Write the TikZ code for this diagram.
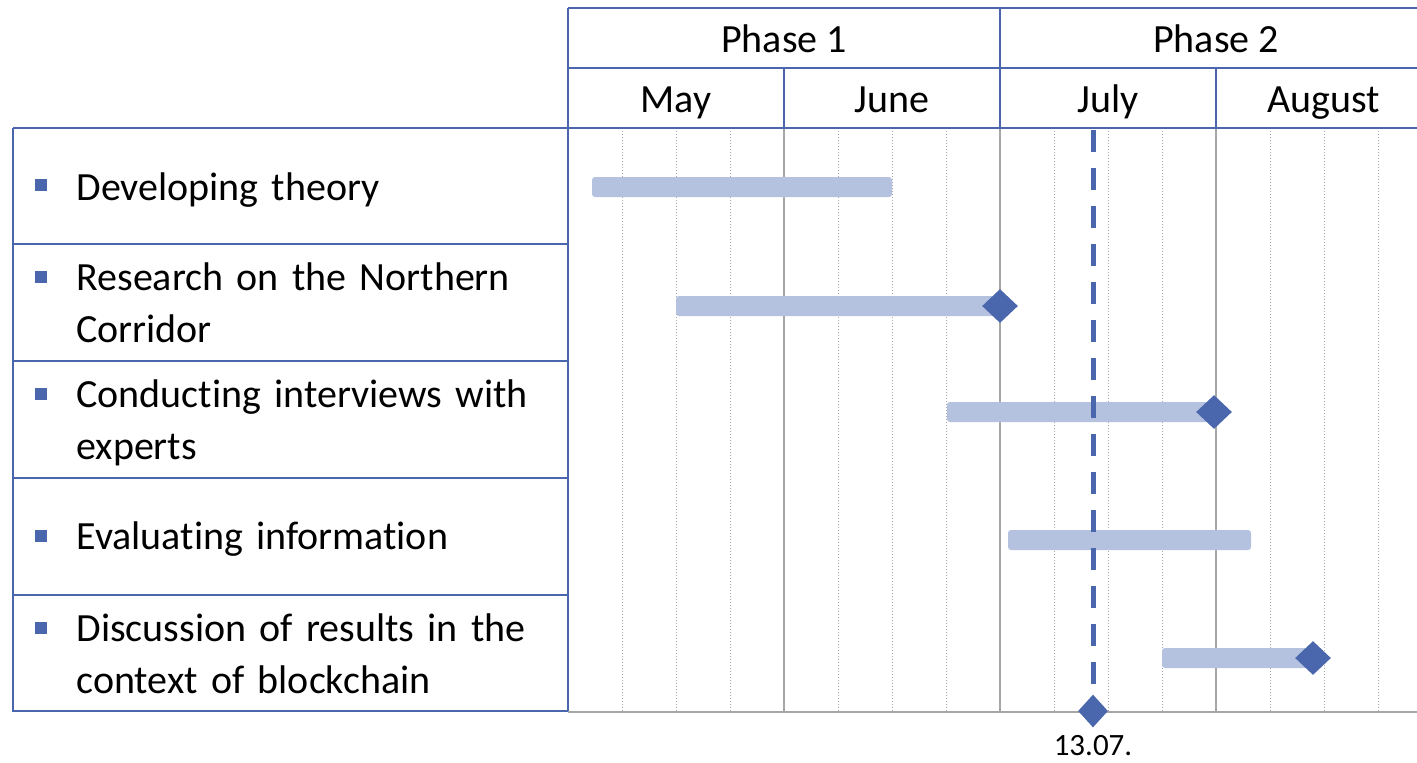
\documentclass[tikz,border=0pt]{standalone}
\usepackage{fontspec}
\setmainfont{Carlito}[Ligatures=NoCommon]
\usetikzlibrary{shapes.geometric}
\definecolor{ganttblue}{HTML}{4A66AC}
\definecolor{ganttbar}{HTML}{B4C1DF}
\definecolor{ganttgray}{HTML}{A6A6A6}

\begin{document}
\begin{tikzpicture}[x=0.5pt, y=-0.5pt]
\tikzset{ frame/.style={ganttblue, line width=1pt},
  monthline/.style={ganttgray, line width=1pt},
  weekline/.style={ganttgray, line width=0.5pt, dash pattern=on 0.5pt off 1pt},
  taskbar/.style={fill=ganttbar, rounded corners=1.5pt},
  milestone/.style={diamond, fill=ganttblue, inner sep=0pt, minimum width=18pt, minimum height=17pt},
  bullet/.style={fill=ganttblue, inner sep=0pt, minimum size=6pt},
  task/.style={anchor=base west, inner sep=0pt, text width=270pt, align=left, font=\fontsize{20}{26}\selectfont},
  head/.style={anchor=base, inner sep=0pt, font=\fontsize{20}{24}\selectfont},
}
\useasboundingbox (0,0) rectangle (1417,762);

% weeks
\draw [weekline] (622,128) -- (622,711);
\draw [weekline] (676,128) -- (676,711);
\draw [weekline] (730,128) -- (730,711);
\draw [weekline] (838,128) -- (838,711);
\draw [weekline] (892,128) -- (892,711);
\draw [weekline] (946,128) -- (946,711);
\draw [weekline] (1054,128) -- (1054,711);
\draw [weekline] (1108,128) -- (1108,711);
\draw [weekline] (1162,128) -- (1162,711);
\draw [weekline] (1270,128) -- (1270,711);
\draw [weekline] (1324,128) -- (1324,711);
\draw [weekline] (1378,128) -- (1378,711);

% months
\draw [monthline] (784,128)  -- (784,711);
\draw [monthline] (1000,128) -- (1000,711);
\draw [monthline] (1216,128) -- (1216,711);
\draw [monthline] (568,712)  -- (1417,712);

% header
\draw [frame] (568,8)   -- (1417,8);
\draw [frame] (568,68)  -- (1417,68);
\draw [frame] (13,128)  -- (1417,128);
\draw [frame] (568,8)   -- (568,711);
\draw [frame] (1000,8)  -- (1000,128);
\draw [frame] (784,68)  -- (784,128);
\draw [frame] (1216,68) -- (1216,128);

% task table
\draw [frame] (13,128) -- (13,711) -- (568,711);
\draw [frame] (13,244) -- (568,244);
\draw [frame] (13,361) -- (568,361);
\draw [frame] (13,478) -- (568,478);
\draw [frame] (13,595) -- (568,595);

\node [head] (P1) at (784,52)  {Phase 1};
\node [head] (P2) at (1216,52) {Phase 2};
\node [head] (May) at (676,112)  {May};
\node [head] (Jun) at (892,112)  {June};
\node [head] (Jul) at (1108,112) {July};
\node [head] (Aug) at (1324,112) {August};

\node [bullet] (B1) at (41,185) {};
\node [bullet] (B2) at (41,277) {};
\node [bullet] (B3) at (41,394) {};
\node [bullet] (B4) at (41,536) {};
\node [bullet] (B5) at (41,628) {};

\node [task] (T1) at (76,200) {Developing theory};
\node [task] (T2) at (76,290) {Research on the Northern\\Corridor};
\node [task] (T3) at (76,407) {Conducting interviews with\\experts};
\node [task] (T4) at (76,549) {Evaluating information};
\node [task] (T5) at (76,641) {Discussion of results in the\\context of blockchain};

% bars
\fill [taskbar] (592,177)  rectangle (892,197);
\fill [taskbar] (676,296)  rectangle (1000,316);
\fill [taskbar] (947,402)  rectangle (1214,422);
\fill [taskbar] (1008,530) rectangle (1251,550);
\fill [taskbar] (1162,648) rectangle (1313,668);

% today
\node [milestone, minimum width=15pt, minimum height=16.5pt] (Now) at (1093,711) {};
\coordinate (NowTop) at (1093,130);
\draw [ganttblue, line width=2.5pt, dash pattern=on 11pt off 8pt] (NowTop) -- (Now);
\node [anchor=base, inner sep=0pt, font=\fontsize{15.5}{18}\selectfont] (NowLbl) at (1093,755) {13.07.};

\node [milestone] (M2) at (1000,306) {};
\node [milestone] (M3) at (1214,412) {};
\node [milestone] (M5) at (1313,658) {};
\end{tikzpicture}
\end{document}
